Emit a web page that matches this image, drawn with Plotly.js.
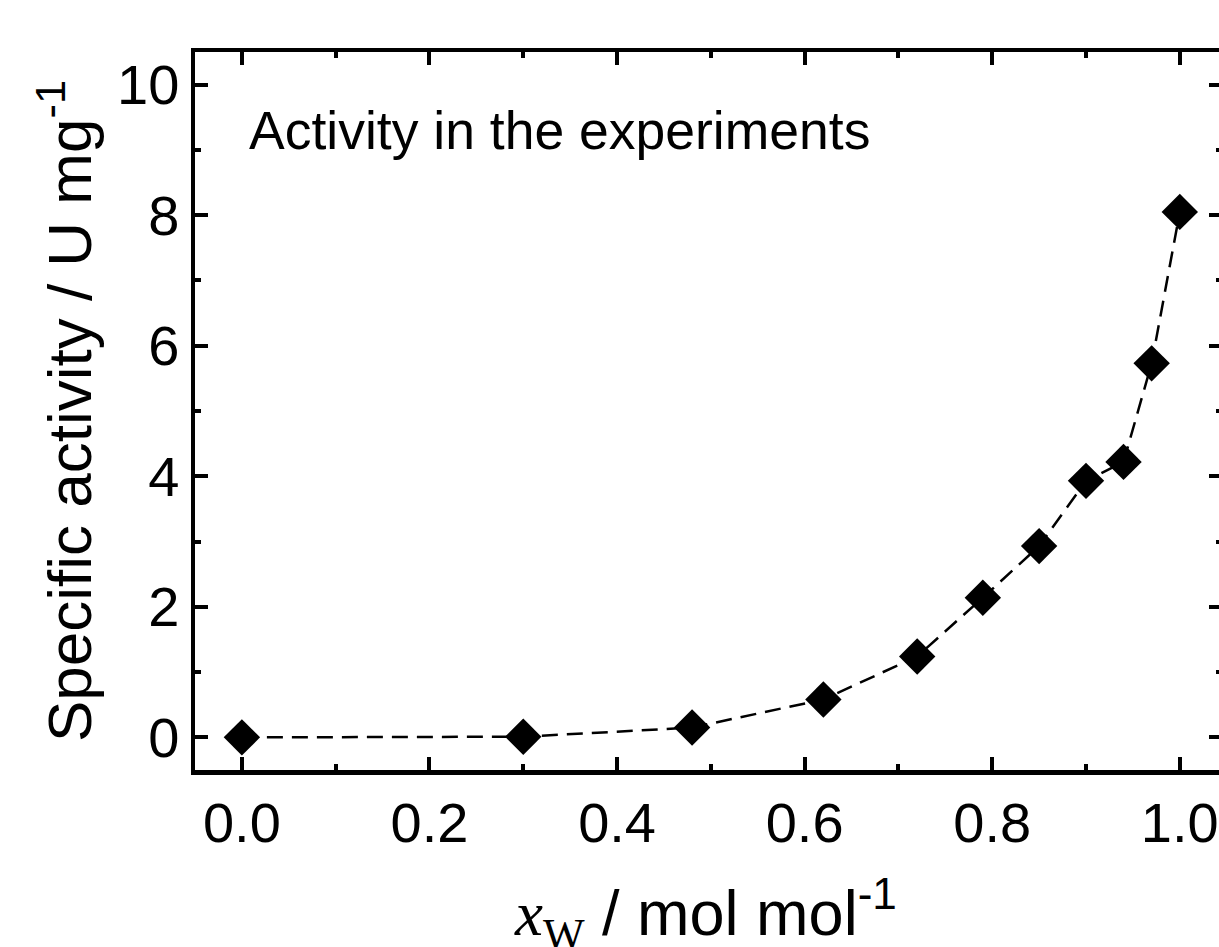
<!DOCTYPE html>
<html>
<head>
<meta charset="utf-8">
<script src="https://cdn.plot.ly/plotly-3.0.1.min.js"></script>
<style>
html,body{margin:0;padding:0;overflow:hidden;background:#fff;}
#chart{width:1240px;height:947px;}
</style>
</head>
<body>
<div id="chart"></div>
<script>
// x_W / mol mol^-1
var waterFraction = [0.0, 0.30, 0.48, 0.62, 0.72, 0.79, 0.85, 0.90, 0.94, 0.97, 1.00];
// Specific activity / U mg^-1
var specificActivity = [0.00, 0.01, 0.15, 0.58, 1.24, 2.14, 2.93, 3.93, 4.22, 5.73, 8.05];
var xTickVals = [0.0, 0.2, 0.4, 0.6, 0.8, 1.0];
var xTickText = ["0.0", "0.2", "0.4", "0.6", "0.8", "1.0"];
var yTickVals = [0, 2, 4, 6, 8, 10];
var yTickText = ["0", "2", "4", "6", "8", "10"];
var annotationText = "Activity in the experiments";
var xTitleText = "<span style=\"font-family:'Liberation Serif'\"><i>x</i><sub>W</sub></span> / mol mol<sup>-1</sup>";
var yTitleText = "Specific activity / U mg<sup>-1</sup>";

var FONT = "'Liberation Sans', Arial, sans-serif";

var trace = {
  x: waterFraction,
  y: specificActivity,
  type: 'scatter',
  mode: 'lines+markers',
  line: {color: '#000', width: 2.5, dash: '16px,9px'},
  marker: {symbol: 'diamond', size: 28, color: '#000', line: {width: 0}},
  hoverinfo: 'x+y',
  showlegend: false
};

var axisCommon = {
  showline: true,
  linecolor: '#000',
  linewidth: 4.5,
  mirror: 'ticks',
  ticks: 'inside',
  ticklen: 13,
  tickwidth: 4,
  tickcolor: '#000',
  showgrid: false,
  zeroline: false,
  tickfont: {family: FONT, size: 56, color: '#000'}
};

var layout = {
  width: 1240,
  height: 947,
  margin: {l: 195, r: 18, t: 52, b: 177},
  paper_bgcolor: '#fff',
  plot_bgcolor: '#fff',
  font: {family: FONT, color: '#000'},
  xaxis: Object.assign({}, axisCommon, {
    range: [-0.05, 1.045],
    tickmode: 'array',
    tickvals: xTickVals,
    ticktext: xTickText,
    minor: {dtick: 0.1, tick0: 0, ticks: 'inside', ticklen: 6, tickwidth: 4, tickcolor: '#000', showgrid: false}
  }),
  yaxis: Object.assign({}, axisCommon, {
    range: [-0.5, 10.5],
    tickmode: 'array',
    tickvals: yTickVals,
    ticktext: yTickText,
    minor: {dtick: 1, tick0: 0, ticks: 'inside', ticklen: 6, tickwidth: 4, tickcolor: '#000', showgrid: false},
    title: {
      text: yTitleText,
      font: {family: FONT, size: 62, color: '#000'},
      standoff: 7
    }
  }),
  annotations: [{
    text: annotationText,
    xref: 'x', yref: 'y',
    x: 0.005, y: 9.3,
    xanchor: 'left', yanchor: 'middle',
    showarrow: false,
    font: {family: FONT, size: 53.5, color: '#000'}
  }, {
    text: xTitleText,
    xref: 'paper', yref: 'paper',
    x: 0.497, y: -0.201,
    xanchor: 'center', yanchor: 'middle',
    showarrow: false,
    font: {family: FONT, size: 63, color: '#000'}
  }]
};

Plotly.newPlot('chart', [trace], layout, {displayModeBar: false, staticPlot: true});
</script>
</body>
</html>
